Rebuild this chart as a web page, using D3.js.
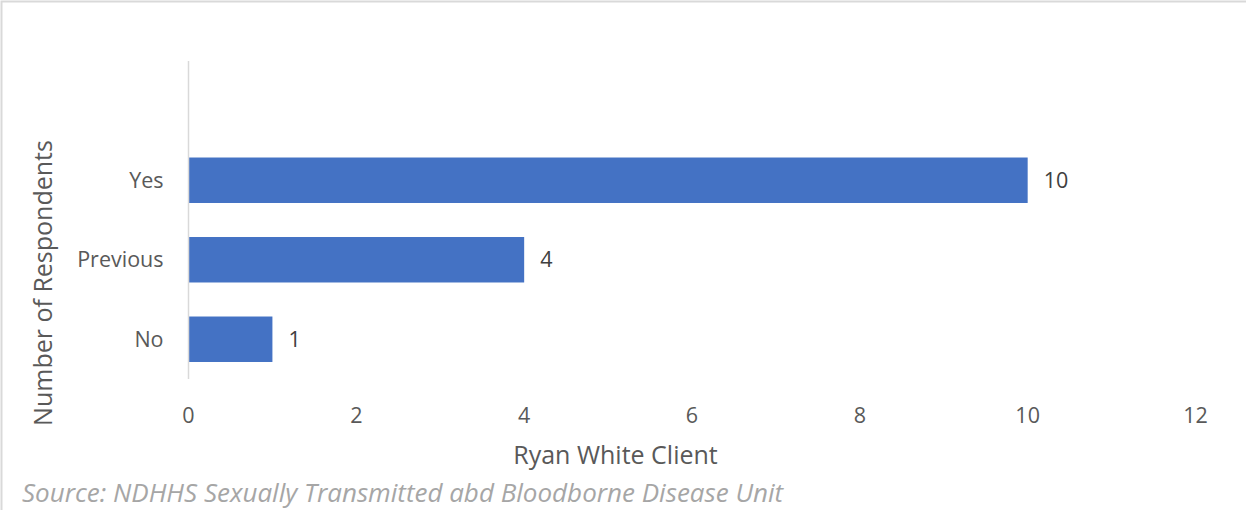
<!DOCTYPE html>
<html><head><meta charset="utf-8">
<script src="https://cdn.jsdelivr.net/npm/d3@7"></script>
<style>
html,body{margin:0;padding:0;background:#fff;}
svg{display:block;}
text{font-family:"Open Sans","Noto Sans",sans-serif;}
</style></head>
<body>
<svg id="c" width="1246" height="510"></svg>
<script>
const categories = ["Yes", "Previous", "No"];
const values = [10, 4, 1];
const xTicks = [0, 2, 4, 6, 8, 10, 12];
const xTitle = "Ryan White Client";
const yTitle = "Number of Respondents";
const source = "Source: NDHHS Sexually Transmitted abd Bloodborne Disease Unit";

const svg = d3.select("#c");
const W = 1246, H = 510;
// border
svg.append("rect").attr("x", 1.5).attr("y", 1.5).attr("width", W + 10).attr("height", H + 10)
  .attr("fill", "none").attr("stroke", "#d9d9d9").attr("stroke-width", 2);

const x0 = 188.5, x1 = 1195.5, yTop = 61, yBot = 379;
const x = d3.scaleLinear().domain([0, 12]).range([x0, x1]);
const step = (yBot - yTop) / 4;
const y = d3.scaleBand().domain(categories).range([yTop + step, yBot])
  .paddingInner(0.428).paddingOuter(0.214);

// bars
svg.selectAll("rect.bar").data(values).join("rect").attr("class", "bar")
  .attr("x", x(0)).attr("y", (d, i) => y(categories[i]))
  .attr("width", d => x(d) - x(0)).attr("height", y.bandwidth())
  .attr("fill", "#4472c4");

// y axis line
svg.append("line").attr("x1", x0).attr("x2", x0).attr("y1", yTop).attr("y2", yBot)
  .attr("stroke", "#d9d9d9").attr("stroke-width", 1.5);

// category labels
svg.selectAll("text.cat").data(categories).join("text").attr("class", "cat")
  .attr("x", x0 - 25).attr("y", d => y(d) + y.bandwidth() / 2)
  .attr("dy", "0.35em").attr("text-anchor", "end")
  .attr("font-size", 21.5).attr("fill", "#595959").text(d => d);

// value labels
svg.selectAll("text.val").data(values).join("text").attr("class", "val")
  .attr("x", d => x(d) + 16).attr("y", (d, i) => y(categories[i]) + y.bandwidth() / 2)
  .attr("dy", "0.35em").attr("font-size", 21.5).attr("fill", "#404040").text(d => d);

// x tick labels
svg.selectAll("text.xt").data(xTicks).join("text").attr("class", "xt")
  .attr("x", d => x(d)).attr("y", 415).attr("dy", "0.35em").attr("text-anchor", "middle")
  .attr("font-size", 21.5).attr("fill", "#595959").text(d => d);

// axis titles
svg.append("text").attr("x", 615.5).attr("y", 455).attr("dy", "0.35em")
  .attr("text-anchor", "middle").attr("font-size", 25).attr("fill", "#595959").text(xTitle);
svg.append("text").attr("transform", "translate(43,283) rotate(-90)").attr("dy", "0.35em")
  .attr("text-anchor", "middle").attr("font-size", 25).attr("fill", "#595959").text(yTitle);

// source
svg.append("text").attr("x", 22).attr("y", 502)
  .attr("font-size", 26).attr("font-style", "italic").attr("fill", "#a6a6a6").text(source);
</script>
</body></html>
